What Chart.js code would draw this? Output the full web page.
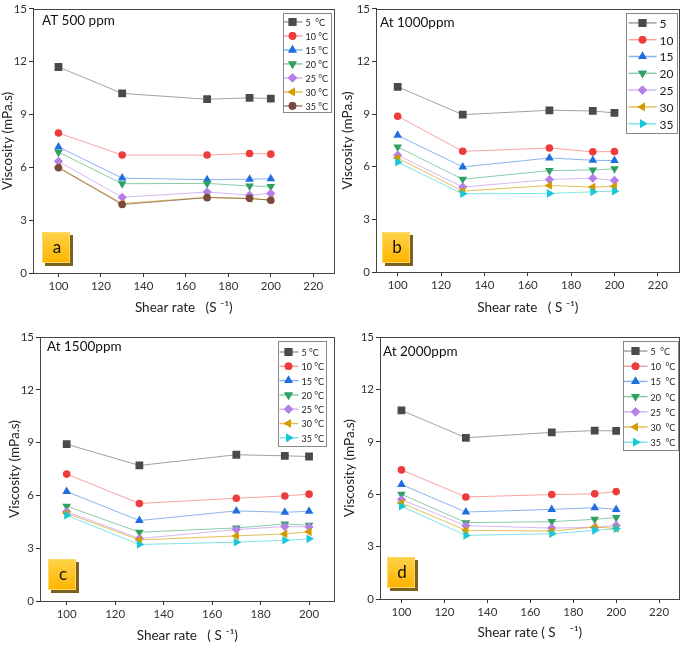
<!DOCTYPE html>
<html>
<head>
<meta charset="utf-8">
<script src="https://cdn.jsdelivr.net/npm/chart.js@4.4.1/dist/chart.umd.min.js"></script>
<style>
body { margin: 0; background: #fff; width: 685px; height: 645px; position: relative; overflow: hidden; }
canvas { position: absolute; }
</style>
</head>
<body>
<canvas id="chartA" width="340" height="320" style="left:0;top:0"></canvas>
<canvas id="chartB" width="345" height="320" style="left:340px;top:0"></canvas>
<canvas id="chartC" width="340" height="325" style="left:0;top:320px"></canvas>
<canvas id="chartD" width="345" height="325" style="left:340px;top:320px"></canvas>
<script>
// shear rate (1/s)
var shearRate = [100, 130, 170, 190, 200];

var tempsA = ['5  °C', '10 °C', '15 °C', '20 °C', '25 °C', '30 °C', '35 °C'];
var tempsB = ['5', '10', '15', '20', '25', '30', '35'];
var tempsC = ['5 °C', '10 °C', '15 °C', '20 °C', '25 °C', '30 °C', '35 °C'];
var tempsD = ['5  °C', '10  °C', '15  °C', '20  °C', '25  °C', '30  °C', '35  °C'];

var yTicks = [0, 3, 6, 9, 12, 15];

// viscosity (mPa.s), one row per temperature
var visc500 = [
	[11.70, 10.20, 9.87, 9.95, 9.91],
	[7.95, 6.70, 6.70, 6.79, 6.75],
	[7.16, 5.39, 5.30, 5.33, 5.35],
	[6.86, 5.07, 5.09, 4.94, 4.92],
	[6.34, 4.30, 4.60, 4.42, 4.52],
	[6.00, 3.95, 4.30, 4.22, 4.15],
	[5.98, 3.89, 4.28, 4.24, 4.13]
];
var visc1000 = [
	[10.56, 8.97, 9.22, 9.18, 9.07],
	[8.88, 6.88, 7.07, 6.85, 6.87],
	[7.79, 5.99, 6.50, 6.37, 6.35],
	[7.13, 5.29, 5.78, 5.82, 5.88],
	[6.66, 4.84, 5.27, 5.35, 5.22],
	[6.50, 4.61, 4.93, 4.84, 4.89],
	[6.26, 4.46, 4.48, 4.57, 4.61]
];
var visc1500 = [
	[8.91, 7.70, 8.31, 8.25, 8.21],
	[7.21, 5.54, 5.84, 5.97, 6.07],
	[6.22, 4.57, 5.12, 5.04, 5.10],
	[5.39, 3.91, 4.15, 4.38, 4.30],
	[5.08, 3.55, 4.06, 4.23, 4.21],
	[4.99, 3.47, 3.70, 3.81, 3.93],
	[4.87, 3.21, 3.34, 3.45, 3.53]
];
var visc2000 = [
	[10.80, 9.23, 9.54, 9.64, 9.62],
	[7.39, 5.84, 5.98, 6.02, 6.15],
	[6.55, 4.98, 5.13, 5.23, 5.13],
	[6.00, 4.37, 4.43, 4.56, 4.66],
	[5.69, 4.20, 4.06, 4.10, 4.21],
	[5.50, 3.93, 3.89, 4.12, 4.04],
	[5.31, 3.64, 3.74, 3.93, 4.02]
];

var FONT = "Lato, 'Open Sans', sans-serif";

var markColors = ['#4a4a4a', '#ee3b3b', '#1f6fe0', '#2fa060', '#b57fe8', '#d49a00', '#18c8d8'];
var lineColors = ['rgba(120,120,120,0.7)', 'rgba(240,100,100,0.6)', 'rgba(60,130,225,0.6)', 'rgba(60,170,110,0.6)', 'rgba(185,135,235,0.6)', 'rgba(215,165,20,0.7)', 'rgba(40,210,220,0.6)'];
var markStyles = ['rect', 'circle', 'triangle', 'triangle', 'rectRot', 'triangle', 'triangle'];
var markRot = [0, 0, 0, 180, 0, 270, 90];
var markSize = { rect: 5.5, circle: 3.8, triangle: 5, rectRot: 4.6 };

function drawMark(ctx, style, rot, x, y, r) {
	if (Chart.helpers && Chart.helpers.drawPoint) {
		Chart.helpers.drawPoint(ctx, { pointStyle: style, rotation: rot, radius: r, borderWidth: 0 }, x, y);
		ctx.fill();
		return;
	}
	ctx.beginPath();
	ctx.arc(x, y, r, 0, Math.PI * 2);
	ctx.fill();
}

var framePlugin = {
	id: 'frame',
	afterDatasetsDraw: function(chart, args, opts) {
		var ctx = chart.ctx, a = chart.chartArea;
		ctx.save();
		ctx.strokeStyle = '#444';
		ctx.lineWidth = 1;
		ctx.strokeRect(Math.round(a.left) + 0.5, Math.round(a.top) + 0.5, Math.round(a.right - a.left) - 1, Math.round(a.bottom - a.top));

		// panel heading
		ctx.fillStyle = '#111';
		ctx.font = opts.titleSize + 'px ' + FONT;
		ctx.textBaseline = 'middle';
		ctx.textAlign = 'left';
		ctx.fillText(opts.title, a.left + opts.titleDx, a.top + opts.titleDy);

		// letter box
		var bx = a.left + opts.boxDx, by = a.bottom - opts.boxDy - 31;
		ctx.fillStyle = '#7a6320';
		ctx.fillRect(bx + 3, by + 3, 28, 31);
		var g = ctx.createLinearGradient(0, by, 0, by + 31);
		g.addColorStop(0, '#ffd24a');
		g.addColorStop(1, '#ffb400');
		ctx.fillStyle = g;
		ctx.fillRect(bx, by, 28, 31);
		ctx.strokeStyle = '#ffd966';
		ctx.strokeRect(bx + 0.5, by + 0.5, 27, 30);
		ctx.fillStyle = '#111';
		ctx.font = '17px ' + FONT;
		ctx.textAlign = 'center';
		ctx.fillText(opts.letter, bx + 15, by + 16);

		// legend
		var L = opts.legend;
		var lx = a.right - L.right - L.w, ly = a.top + L.top;
		ctx.fillStyle = '#fff';
		ctx.fillRect(lx, ly, L.w, L.h);
		ctx.strokeStyle = '#888';
		ctx.strokeRect(Math.round(lx) + 0.5, Math.round(ly) + 0.5, L.w, L.h);
		ctx.font = L.font + 'px ' + FONT;
		ctx.textAlign = 'left';
		chart.data.datasets.forEach(function(ds, i) {
			var ry = ly + L.first + i * L.step;
			ctx.strokeStyle = ds.borderColor;
			ctx.lineWidth = 1.5;
			ctx.beginPath();
			ctx.moveTo(lx + L.line0, ry);
			ctx.lineTo(lx + L.line1, ry);
			ctx.stroke();
			ctx.fillStyle = ds.pointBackgroundColor;
			drawMark(ctx, ds.pointStyle, ds.pointRotation, lx + L.mark, ry, ds.pointRadius);
			ctx.fillStyle = '#222';
			ctx.fillText(ds.label, lx + L.text, ry + 1);
		});
		ctx.restore();
	}
};

function buildDatasets(rows, labels, lastColor) {
	return rows.map(function(vals, i) {
		var mc = markColors[i], lc = lineColors[i], st = markStyles[i];
		if (i == 6 && lastColor) {
			mc = lastColor;
			lc = 'rgba(130,80,60,0.7)';
			st = 'circle';
		}
		return {
			label: labels[i],
			data: shearRate.map(function(x, j) { return { x: x, y: vals[j] }; }),
			borderColor: lc,
			borderWidth: 1,
			pointBackgroundColor: mc,
			pointBorderWidth: 0,
			pointRadius: markSize[st],
			pointStyle: st,
			pointRotation: markRot[i],
			order: 7 - i
		};
	});
}

function makeChart(id, rows, labels, lastColor, p) {
	var ctx = document.getElementById(id).getContext('2d');
	return new Chart(ctx, {
		type: 'line',
		data: { datasets: buildDatasets(rows, labels, lastColor) },
		plugins: [framePlugin],
		options: {
			responsive: false,
			animation: false,
			events: [],
			layout: { padding: { left: 0, top: p.top, right: p.right, bottom: 0 } },
			plugins: {
				legend: { display: false },
				tooltip: { enabled: false },
				frame: p.frame
			},
			scales: {
				x: {
					type: 'linear',
					min: p.xMin,
					max: p.xMax,
					afterBuildTicks: function(scale) {
						scale.ticks = p.xTicks.map(function(v) { return { value: v }; });
					},
					afterFit: function(scale) { scale.height = p.xHeight; },
					grid: { drawOnChartArea: false, drawTicks: true, tickLength: 4, color: '#333' },
					border: { color: '#333' },
					ticks: { color: '#333', font: { family: FONT, size: 11.5 }, padding: 2, maxRotation: 0 },
					title: { display: true, text: p.xTitle, color: '#222', font: { family: FONT, size: 13.5 }, padding: { top: 0, bottom: p.xTitlePad } }
				},
				y: {
					min: 0,
					max: 15,
					afterBuildTicks: function(scale) {
						scale.ticks = yTicks.map(function(v) { return { value: v }; });
					},
					afterFit: function(scale) { scale.width = p.yWidth; },
					grid: { drawOnChartArea: false, drawTicks: true, tickLength: 4, color: '#333' },
					border: { color: '#333' },
					ticks: { color: '#333', font: { family: FONT, size: 11.5 }, padding: 2 },
					title: { display: true, text: 'Viscosity (mPa.s)', color: '#222', font: { family: FONT, size: 13.5 }, padding: { top: p.yTitlePad, bottom: 0 } }
				}
			}
		}
	});
}

makeChart('chartA', visc500, tempsA, '#7a4a3c', {
	top: 6, right: 5, yWidth: 33, xHeight: 47, xMin: 88, xMax: 230,
	xTicks: [100, 120, 140, 160, 180, 200, 220], xTitle: 'Shear rate   (S ⁻¹)', xTitlePad: 4, yTitlePad: 0,
	frame: { title: 'AT 500 ppm', titleSize: 13.5, titleDx: 9, titleDy: 12, letter: 'a', boxDx: 9, boxDy: 10,
		legend: { right: 4, top: 4, w: 48, h: 99, first: 9, step: 14, line0: 1, line1: 20, mark: 10, text: 23, font: 9 } }
});

makeChart('chartB', visc1000, tempsB, null, {
	top: 7, right: 5, yWidth: 36, xHeight: 48, xMin: 90, xMax: 230,
	xTicks: [100, 120, 140, 160, 180, 200, 220], xTitle: 'Shear rate   ( S ⁻¹)', xTitlePad: 4, yTitlePad: 0,
	frame: { title: 'At 1000ppm', titleSize: 13.5, titleDx: 4, titleDy: 14, letter: 'b', boxDx: 6, boxDy: 9,
		legend: { right: 3, top: 4, w: 51, h: 120, first: 10, step: 16.8, line0: 3, line1: 31, mark: 17, text: 34, font: 12 } }
});

makeChart('chartC', visc1500, tempsC, null, {
	top: 17, right: 1, yWidth: 40, xHeight: 44, xMin: 89, xMax: 210.5,
	xTicks: [100, 120, 140, 160, 180, 200], xTitle: 'Shear rate   ( S ⁻¹)', xTitlePad: 1, yTitlePad: 7,
	frame: { title: 'At 1500ppm', titleSize: 13.5, titleDx: 7, titleDy: 10, letter: 'c', boxDx: 8, boxDy: 11,
		legend: { right: 9, top: 4, w: 48, h: 105, first: 11, step: 14.3, line0: 2, line1: 21, mark: 11, text: 24, font: 9 } }
});

makeChart('chartD', visc2000, tempsD, null, {
	top: 17, right: 1, yWidth: 40, xHeight: 46, xMin: 90, xMax: 229.5,
	xTicks: [100, 120, 140, 160, 180, 200, 220], xTitle: 'Shear rate ( S    ⁻¹)', xTitlePad: 4, yTitlePad: 2,
	frame: { title: 'At 2000ppm', titleSize: 13.5, titleDx: 3, titleDy: 15, letter: 'd', boxDx: 7, boxDy: 11,
		legend: { right: 2, top: 4, w: 55, h: 109, first: 10, step: 15.2, line0: 1, line1: 25, mark: 13, text: 28, font: 9 } }
});
</script>
</body>
</html>
